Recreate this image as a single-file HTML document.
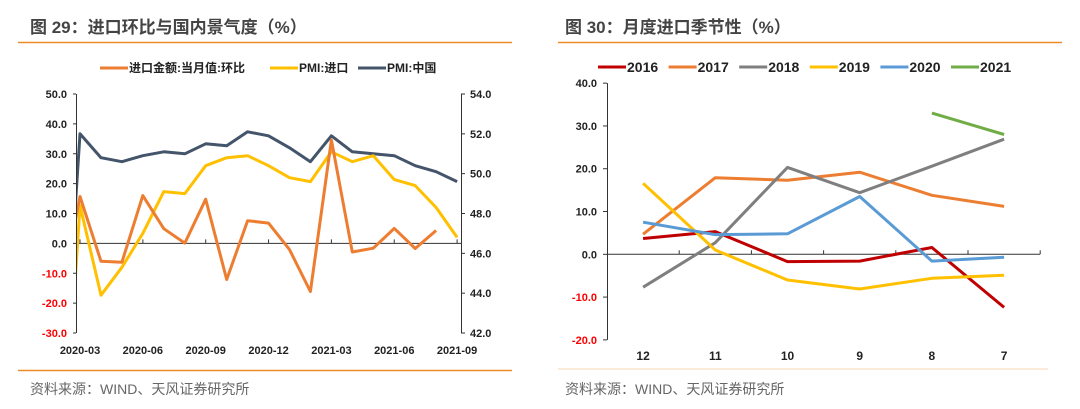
<!DOCTYPE html>
<html><head><meta charset="utf-8">
<style>
html,body{margin:0;padding:0;background:#fff;width:1080px;height:409px;overflow:hidden;font-family:"Liberation Sans","Noto Sans CJK SC",sans-serif;}
svg{position:absolute;left:0;top:0;display:block}
</style></head>
<body>
<svg id="s" width="1080" height="409" xmlns="http://www.w3.org/2000/svg" font-family="Liberation Sans, Noto Sans CJK SC, sans-serif">
<defs><clipPath id="lc"><rect x="77" y="60" width="400" height="290"/></clipPath></defs>
<text x="30" y="33" font-size="17" font-weight="bold" fill="#444">图 29：进口环比与国内景气度（%）</text>
<line x1="18" y1="42.5" x2="512" y2="42.5" stroke="#f08a24" stroke-width="1.5"/>
<text x="565" y="33" font-size="17" font-weight="bold" fill="#444">图 30：月度进口季节性（%）</text>
<line x1="558" y1="42.5" x2="1062" y2="42.5" stroke="#f08a24" stroke-width="1.5"/>
<line x1="18" y1="370.5" x2="512" y2="370.5" stroke="#f08a24" stroke-width="1.5"/>
<line x1="558" y1="369" x2="1048" y2="369" stroke="#fbe3cf" stroke-width="1.5"/>
<text x="30" y="394" font-size="14" fill="#666">资料来源：WIND、天风证券研究所</text>
<text x="565" y="394" font-size="14" fill="#666">资料来源：WIND、天风证券研究所</text>
<g id="L"></g><g id="R"></g>
</svg>
<script>
// ---- Left chart data ----
const leftMonths = ["2020-02","2020-03","2020-04","2020-05","2020-06","2020-07","2020-08","2020-09","2020-10","2020-11","2020-12","2021-01","2021-02","2021-03","2021-04","2021-05","2021-06","2021-07","2021-08","2021-09"];
const importMoM = [-20,15.7,-6.0,-6.3,16.0,4.9,0.1,14.8,-12.1,7.6,6.8,-2.1,-16.1,34.6,-2.9,-1.6,5.0,-1.7,4.3,null];
const pmiImport = [31.9,48.4,43.9,45.3,47.0,49.1,49.0,50.4,50.8,50.9,50.4,49.8,49.6,51.1,50.6,50.9,49.7,49.4,48.3,46.8];
const pmiChina = [35.7,52.0,50.8,50.6,50.9,51.1,51.0,51.5,51.4,52.1,51.9,51.3,50.6,51.9,51.1,51.0,50.9,50.4,50.1,49.6];
const leftTicks = [50,40,30,20,10,0,-10,-20,-30];
const rightTicks = [54,52,50,48,46,44,42];
const xLabels = ["2020-03","2020-06","2020-09","2020-12","2021-03","2021-06","2021-09"];
// ---- Right chart data ----
const rCats = ["12","11","10","9","8","7"];
const y2016 = [3.7,5.3,-1.7,-1.6,1.6,-12.4];
const y2017 = [4.7,17.9,17.3,19.2,13.8,11.2];
const y2018 = [-7.7,2.7,20.3,14.4,20.6,26.9];
const y2019 = [16.6,1.0,-6.0,-8.1,-5.6,-4.9];
const y2020 = [7.5,4.6,4.8,13.5,-1.6,-0.7];
const y2021 = [null,null,null,null,33.0,28.0];
const rTicks = [40,30,20,10,0,-10,-20];

const NS="http://www.w3.org/2000/svg";
function mk(p,t,a,txt){const e=document.createElementNS(NS,t);for(const k in a)e.setAttribute(k,a[k]);if(txt!=null)e.textContent=txt;p.appendChild(e);return e;}
function pathOf(vals,fx,fy){let d="",pen=false;vals.forEach((v,i)=>{if(v==null){pen=false;return;}d+=(pen?"L":"M")+fx(i).toFixed(1)+","+fy(v).toFixed(1);pen=true;});return d;}

// Left chart
const L=document.getElementById('L');
const lx=i=>80+(i-1)*20.95;
const ly=v=>94+(50-v)*(239/80);
const ry=v=>94+(54-v)*(239/12);
mk(L,'line',{x1:76.5,y1:94,x2:76.5,y2:333,stroke:'#333','stroke-width':1});
mk(L,'line',{x1:461.5,y1:94,x2:461.5,y2:333,stroke:'#333','stroke-width':1});
leftTicks.forEach(t=>{const y=ly(t);
 mk(L,'line',{x1:73,y1:y,x2:76,y2:y,stroke:'#333'});
 const e=mk(L,'text',{x:67,y:y+4,'text-anchor':'end','font-size':11,'font-weight':'bold',fill:t<0?'#ff0000':'#222'},t.toFixed(1));
 });
rightTicks.forEach(t=>{const y=ry(t);
 mk(L,'line',{x1:461,y1:y,x2:465,y2:y,stroke:'#333'});
 const e=mk(L,'text',{x:470,y:y+4,'font-size':11,'font-weight':'bold',fill:'#222'},t.toFixed(1));
 });
mk(L,'line',{x1:76,y1:ly(0),x2:461,y2:ly(0),stroke:'#333'});
xLabels.forEach(lab=>{const i=leftMonths.indexOf(lab);const x=lx(i);
 mk(L,'line',{x1:x,y1:ly(0),x2:x,y2:ly(0)-4,stroke:'#333'});
 const e=mk(L,'text',{x:x,y:354,'text-anchor':'middle','font-size':11,'font-weight':'bold',fill:'#222'},lab);
 });
const lg=mk(L,'g',{'clip-path':'url(#lc)'});
[[pmiChina,'#44546a',ry,'line-pmi-china'],[pmiImport,'#ffc000',ry,'line-pmi-import'],[importMoM,'#ed7d31',ly,'line-import-mom']].forEach(([d,c,f,n])=>{
 const p=mk(lg,'path',{d:pathOf(d,lx,f),fill:'none',stroke:c,'stroke-width':3,'stroke-linejoin':'round'});
 });
[['进口金额:当月值:环比','#ed7d31',100],['PMI:进口','#ffc000',270],['PMI:中国','#44546a',358]].forEach(([t,c,x])=>{
 const g=mk(L,'g',{});
 mk(g,'line',{x1:x,y1:68,x2:x+28,y2:68,stroke:c,'stroke-width':3});
 mk(g,'text',{x:x+29,y:72,'font-size':12,'font-weight':'bold',fill:'#222'},t);});

// Right chart
const R=document.getElementById('R');
const bx0=607, bw=72.2;
const rx=i=>bx0+bw*(i+0.5);
const rY=v=>254.3-v*(256.7/60);
mk(R,'line',{x1:607.5,y1:rY(40),x2:607.5,y2:rY(-20),stroke:'#333'});
rTicks.forEach(t=>{const y=rY(t);
 mk(R,'line',{x1:603,y1:y,x2:607,y2:y,stroke:'#333'});
 const e=mk(R,'text',{x:597,y:y+4,'text-anchor':'end','font-size':11,'font-weight':'bold',fill:t<0?'#ff0000':'#222'},t.toFixed(1));
 });
mk(R,'line',{x1:607,y1:rY(0),x2:1040,y2:rY(0),stroke:'#333'});
rCats.forEach((c,i)=>{const xb=bx0+bw*(i+1);
 mk(R,'line',{x1:xb,y1:rY(0),x2:xb,y2:rY(0)-4,stroke:'#333'});
 const e=mk(R,'text',{x:rx(i),y:360,'text-anchor':'middle','font-size':12,'font-weight':'bold',fill:'#222'},c);
 });
const series=[['2016',y2016,'#c00000'],['2017',y2017,'#ed7d31'],['2018',y2018,'#7f7f7f'],['2019',y2019,'#ffc000'],['2020',y2020,'#5b9bd5'],['2021',y2021,'#70ad47']];
series.forEach(([n,d,c],k)=>{
 const p=mk(R,'path',{d:pathOf(d,rx,rY),fill:'none',stroke:c,'stroke-width':3,'stroke-linejoin':'round'});
 
 const x=598+k*70.6;
 const g=mk(R,'g',{});
 mk(g,'line',{x1:x,y1:67,x2:x+28,y2:67,stroke:c,'stroke-width':3});
 mk(g,'text',{x:x+29,y:72,'font-size':14,'font-weight':'bold',fill:'#222'},n);});
</script>
</body></html>
